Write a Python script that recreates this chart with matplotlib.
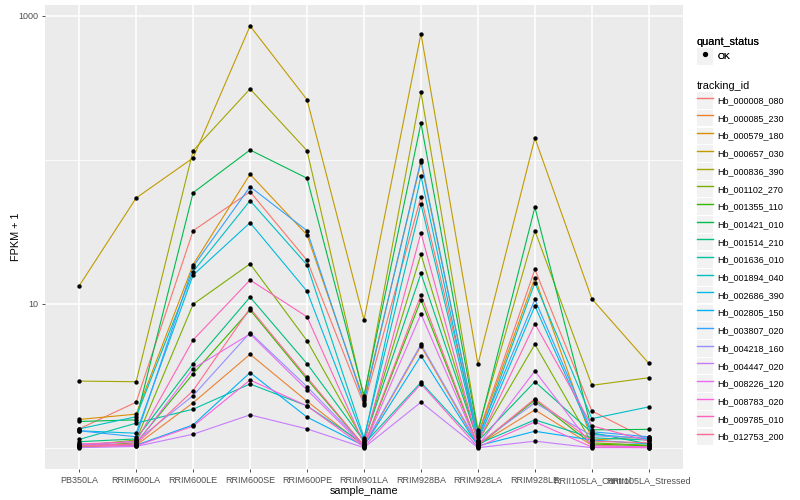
import matplotlib
matplotlib.use("Agg")
import matplotlib.pyplot as plt
from matplotlib.lines import Line2D
from matplotlib.patches import Rectangle
from matplotlib.legend_handler import HandlerLine2D
from matplotlib.ticker import FixedLocator, NullFormatter

plt.rcParams['font.family'] = ['Liberation Sans', 'DejaVu Sans']

# samples on the x axis
samples = ["PB350LA", "RRIM600LA", "RRIM600LE", "RRIM600SE", "RRIM600PE",
           "RRIM901LA", "RRIM928BA", "RRIM928LA", "RRIM928LE",
           "RRII105LA_Control", "RRII105LA_Stressed"]

tracking_ids = ["Hb_000008_080", "Hb_000085_230", "Hb_000579_180", "Hb_000657_030",
                "Hb_000836_390", "Hb_001102_270", "Hb_001355_110", "Hb_001421_010",
                "Hb_001514_210", "Hb_001636_010", "Hb_001894_040", "Hb_002686_390",
                "Hb_002805_150", "Hb_003807_020", "Hb_004218_160", "Hb_004447_020",
                "Hb_008226_120", "Hb_008783_020", "Hb_009785_010", "Hb_012753_200"]

# ggplot default hue palette for 20 groups
colors = ["#F8766D", "#EA8331", "#D89000", "#C09B00", "#A3A500", "#7CAE00",
          "#39B600", "#00BB4E", "#00BF7D", "#00C1A3", "#00BFC4", "#00BAE0",
          "#00B0F6", "#35A2FF", "#9590FF", "#C77CFF", "#E76BF3", "#FA62DB",
          "#FF62BC", "#FF6C91"]

# FPKM + 1, one list per gene, in sample order
hb_000008_080 = [1.35, 2.07, 32.1, 59.9, 20.0, 1.98, 55.3, 1.24, 17.3, 1.80, 1.13]
hb_000085_230 = [1.01, 1.04, 2.05, 4.45, 2.10, 1.03, 5.09, 1.04, 1.83, 1.04, 1.01]
hb_000579_180 = [1.57, 1.71, 18.7, 79.2, 30.0, 2.14, 95.9, 1.21, 15.1, 1.13, 1.19]
hb_000657_030 = [13.3, 54.2, 102.8, 848, 261, 7.7, 750, 3.8, 141.5, 10.8, 3.85]
hb_000836_390 = [2.9, 2.87, 115.5, 310, 115.5, 2.22, 294, 1.33, 32.1, 2.71, 3.06]
hb_001102_270 = [1.03, 1.13, 9.9, 18.9, 5.53, 1.10, 22.0, 1.10, 5.22, 1.08, 1.04]
hb_001355_110 = [1.02, 1.08, 3.26, 9.04, 2.99, 1.03, 10.6, 1.03, 2.14, 1.06, 1.03]
hb_001421_010 = [1.52, 1.56, 59.0, 116.8, 74.3, 2.30, 179, 1.29, 46.7, 1.33, 1.34]
hb_001514_210 = [1.10, 1.15, 3.83, 11.1, 3.83, 1.11, 16.2, 1.11, 2.87, 1.27, 1.06]
hb_001636_010 = [1.14, 1.48, 1.85, 2.77, 1.95, 1.06, 2.84, 1.06, 1.56, 1.17, 1.13]
hb_001894_040 = [1.35, 1.64, 16.7, 51.9, 18.6, 1.17, 49.2, 1.13, 14.0, 1.59, 1.92]
hb_002686_390 = [1.31, 1.26, 15.8, 36.5, 12.2, 1.13, 77.1, 1.11, 9.64, 1.24, 1.15]
hb_002805_150 = [1.06, 1.04, 1.44, 3.32, 1.63, 1.03, 4.35, 1.03, 1.30, 1.13, 1.06]
hb_003807_020 = [1.31, 1.19, 18.1, 64.9, 32.1, 2.05, 99.5, 1.19, 10.7, 1.29, 1.19]
hb_004218_160 = [1.04, 1.11, 2.30, 6.29, 2.65, 1.04, 5.22, 1.06, 2.05, 1.21, 1.17]
hb_004447_020 = [1.00, 1.02, 1.24, 1.69, 1.35, 1.00, 2.07, 1.00, 1.11, 1.00, 1.00]
hb_008226_120 = [1.04, 1.06, 3.54, 6.16, 2.52, 1.02, 8.48, 1.03, 3.41, 1.03, 1.01]
hb_008783_020 = [1.03, 1.03, 1.41, 2.95, 1.95, 1.01, 2.77, 1.01, 1.51, 1.01, 1.00]
hb_009785_010 = [1.06, 1.10, 5.6, 14.6, 8.1, 1.06, 31.0, 1.08, 7.26, 1.42, 1.11]
hb_012753_200 = [1.03, 1.06, 2.49, 9.29, 3.08, 1.03, 11.5, 1.04, 2.19, 1.11, 1.08]

series = [hb_000008_080, hb_000085_230, hb_000579_180, hb_000657_030, hb_000836_390,
          hb_001102_270, hb_001355_110, hb_001421_010, hb_001514_210, hb_001636_010,
          hb_001894_040, hb_002686_390, hb_002805_150, hb_003807_020, hb_004218_160,
          hb_004447_020, hb_008226_120, hb_008783_020, hb_009785_010, hb_012753_200]


class KeyHandler(HandlerLine2D):
    # grey key box behind each legend glyph, like ggplot
    def create_artists(self, legend, orig_handle, xdescent, ydescent,
                       width, height, fontsize, trans):
        artists = super().create_artists(legend, orig_handle, xdescent, ydescent,
                                         width, height, fontsize, trans)
        box = Rectangle((-xdescent, -ydescent), width, height,
                        facecolor="#F2F2F2", edgecolor="none", transform=trans)
        return [box] + list(artists)


def main():
    fig = plt.figure(figsize=(8, 5), dpi=100)
    ax = fig.add_axes([0.05625, 0.062, 0.7975, 0.928])
    ax.set_facecolor("#EBEBEB")
    for s in ax.spines.values():
        s.set_visible(False)

    x = list(range(len(samples)))
    for vals, c in zip(series, colors):
        ax.plot(x, vals, color=c, lw=0.8, zorder=2)
    for vals in series:
        ax.scatter(x, vals, s=10, color="black", zorder=3, linewidths=0)

    ax.set_yscale("log")
    ax.set_ylim(0.711, 1186)
    ax.set_xlim(-0.6, len(samples) - 0.4)
    ax.set_yticks([10, 1000], ["10", "1000"])
    ax.yaxis.set_minor_locator(FixedLocator([1, 100]))
    ax.yaxis.set_minor_formatter(NullFormatter())
    ax.set_xticks(x, samples)

    ax.grid(which="major", color="white", lw=1.1)
    ax.grid(which="minor", axis="y", color="white", lw=0.55)
    ax.set_axisbelow(True)
    ax.tick_params(which="major", colors="#333333", labelcolor="#4D4D4D",
                   labelsize=6.5, length=2.5, width=0.6, pad=2.5)
    ax.tick_params(which="minor", length=0)

    ax.set_xlabel("sample_name", fontsize=7.8, labelpad=0.5)
    ax.set_ylabel("FPKM + 1", fontsize=7.8, labelpad=-2)

    # legends
    leg_kw = dict(loc="upper left", frameon=False, fontsize=6.5, title_fontsize=7.8,
                  handlelength=1.83, handleheight=2.44, handletextpad=0.44,
                  labelspacing=0.13, borderpad=0, borderaxespad=0,
                  alignment="left", handler_map={Line2D: KeyHandler()})
    status = fig.legend([Line2D([], [], marker="o", color="black", ls="none", markersize=2.8)],
                        ["OK"], title="quant_status",
                        bbox_to_anchor=(0.871, 0.926), **leg_kw)
    handles = [Line2D([], [], color=c, lw=1.0) for c in colors]
    fig.legend(handles, tracking_ids, title="tracking_id",
               bbox_to_anchor=(0.871, 0.838), **leg_kw)
    fig.add_artist(status)

    fig.savefig("out.png", dpi=100)


if __name__ == "__main__":
    main()
